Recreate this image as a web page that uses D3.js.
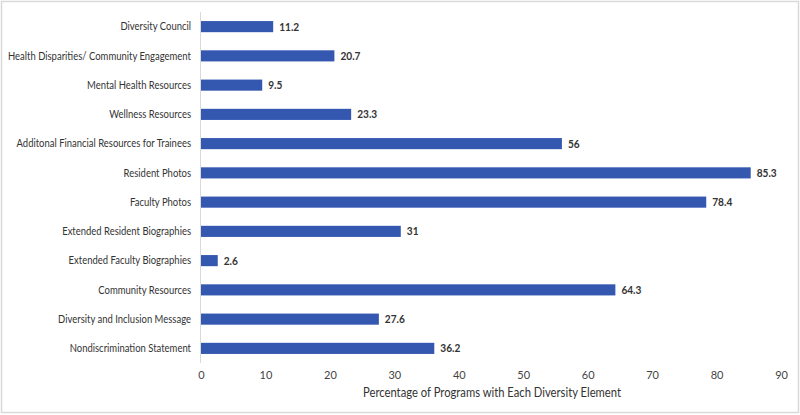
<!DOCTYPE html>
<html><head><meta charset="utf-8">
<script src="https://cdn.jsdelivr.net/npm/d3@7"></script>
<style>body{margin:0;background:#fff}svg{display:block;font-family:Lato,"Open Sans",sans-serif}</style>
</head><body><svg id="c" width="800" height="415"></svg>
<script>
const categories = ["Diversity Council","Health Disparities/ Community Engagement","Mental Health Resources","Wellness Resources","Additonal Financial Resources for Trainees","Resident Photos","Faculty Photos","Extended Resident Biographies","Extended Faculty Biographies","Community Resources","Diversity and Inclusion Message","Nondiscrimination Statement"];
const values = [11.2,20.7,9.5,23.3,56,85.3,78.4,31,2.6,64.3,27.6,36.2];
const ticks = [0,10,20,30,40,50,60,70,80,90];
const axisTitle = "Percentage of Programs with Each Diversity Element";

const svg = d3.select("#c");
svg.append("rect").attr("x",1.5).attr("y",1.5).attr("width",797).attr("height",411)
  .attr("fill","#fff").attr("stroke","#d9d9d9").attr("stroke-width",1.5);

const x = d3.scaleLinear().domain([0,90]).range([201,781]);
const y = d3.scaleBand().domain(categories).range([12,363]).paddingInner(0.62).paddingOuter(0.31);

function squeeze(sel, k){
  sel.each(function(){
    const L = this.getComputedTextLength();
    d3.select(this).attr("textLength", L*k).attr("lengthAdjust","spacingAndGlyphs");
  });
}

svg.append("line").attr("x1",200.5).attr("x2",200.5).attr("y1",12).attr("y2",363)
  .attr("stroke","#d9d9d9").attr("stroke-width",1);

svg.selectAll("rect.bar").data(values).join("rect").attr("class","bar")
  .attr("x",x(0)).attr("y",(d,i)=>y(categories[i]))
  .attr("width",d=>x(d)-x(0)).attr("height",y.bandwidth())
  .attr("fill","#3457b0");

const vals = svg.selectAll("text.val").data(values).join("text").attr("class","val")
  .attr("x",d=>x(d)+6).attr("y",(d,i)=>y(categories[i])+y.bandwidth()/2)
  .attr("dy","0.36em").attr("font-size",11).attr("font-weight","bold").attr("fill","#333")
  .text(d=>d);
squeeze(vals,0.92);

const ya = d3.axisLeft(y).tickSize(0).tickPadding(9);
const gy = svg.append("g").attr("transform","translate(200,0)").call(ya);
gy.select(".domain").remove();
const yl = gy.selectAll("text").attr("font-size",11.5).attr("fill","#333").attr("font-family","Lato");
let maxL = 0; yl.each(function(){ maxL = Math.max(maxL, this.getComputedTextLength()); });
squeeze(yl, 183/maxL);

const xa = d3.axisBottom(x).tickValues(ticks).tickSize(0).tickPadding(0);
const gx = svg.append("g").attr("transform","translate(0,371)").call(xa);
gx.select(".domain").remove();
gx.selectAll("text").attr("font-size",11).attr("fill","#444").attr("font-family","Lato");

const t = svg.append("text").attr("x",492).attr("y",397).attr("text-anchor","middle")
  .attr("font-size",13).attr("fill","#333").text(axisTitle);
squeeze(t, 258/t.node().getComputedTextLength());
</script></body></html>
